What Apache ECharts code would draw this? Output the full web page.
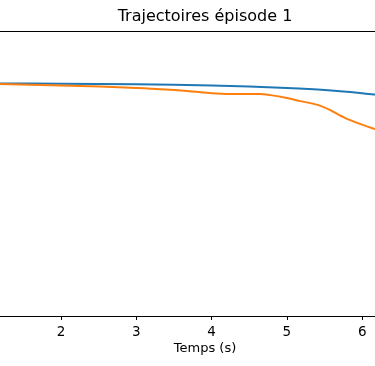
<!DOCTYPE html>
<html>
<head>
<meta charset="utf-8">
<script src="https://cdn.jsdelivr.net/npm/echarts@6/dist/echarts.min.js"></script>
<style>html,body{margin:0;padding:0;background:#fff}#c{width:375px;height:366px}</style>
</head>
<body>
<div id="c"></div>
<script>
const titleText = "Trajectoires épisode 1";
const xLabel = "Temps (s)";
const blueT = [1.0, 1.19, 2.0, 3.0, 4.0, 4.5, 5.0, 5.5, 6.0, 6.17, 6.3];
const blueV = [81.6, 81.6, 81.5, 81.3, 80.9, 80.5, 80.0, 79.3, 78.2, 77.7, 77.3];
const orangeT = [1.0, 1.19, 2.0, 2.52, 3.0, 3.32, 3.71, 4.0, 4.38, 4.64, 4.78, 5.0, 5.18, 5.42, 5.57, 5.77, 5.97, 6.17, 6.3];
const orangeV = [81.5, 81.4, 80.9, 80.5, 80.0, 79.6, 78.9, 78.2, 77.9, 77.9, 77.5, 76.5, 75.4, 74.0, 72.3, 69.5, 67.4, 65.6, 64.8];
const xTicks = [2, 3, 4, 5, 6];

const zip = (a, b) => a.map((t, i) => [t, b[i]]);
const chart = echarts.init(document.getElementById('c'), null, {renderer: 'canvas'});
const font = 'DejaVu Sans';
chart.setOption({
  animation: false,
  backgroundColor: '#fff',
  grid: {left: 0, right: 0, top: 31, bottom: 50, containLabel: false},
  xAxis: [{
    type: 'value', min: 1.19, max: 6.17, interval: 1,
    position: 'bottom',
    axisLine: {show: true, lineStyle: {color: '#000', width: 1}},
    axisTick: {show: true, length: 4, inside: false, lineStyle: {color: '#000', width: 1},
      customValues: xTicks},
    axisLabel: {show: true, color: '#000', fontFamily: font, fontSize: 13.5, margin: 9,
      customValues: xTicks, formatter: v => String(v)},
    splitLine: {show: false}
  }, {
    type: 'value', min: 1.19, max: 6.17,
    position: 'top',
    axisLine: {show: true, onZero: false, lineStyle: {color: '#000', width: 1}},
    axisTick: {show: false}, axisLabel: {show: false}, splitLine: {show: false}
  }],
  yAxis: {
    type: 'value', min: 0, max: 100,
    axisLine: {show: false}, axisTick: {show: false}, axisLabel: {show: false}, splitLine: {show: false}
  },
  series: [
    {type: 'line', data: zip(blueT, blueV), smooth: 0.3, showSymbol: false, clip: true,
     lineStyle: {color: '#1f77b4', width: 2}, itemStyle: {color: '#1f77b4'}},
    {type: 'line', data: zip(orangeT, orangeV), smooth: 0.3, showSymbol: false, clip: true,
     lineStyle: {color: '#ff7f0e', width: 2}, itemStyle: {color: '#ff7f0e'}}
  ],
  graphic: [
    {type: 'text', x: 205, y: 17, style: {text: titleText, fill: '#000', font: '16px "DejaVu Sans"', textAlign: 'center', textVerticalAlign: 'middle'}},
    {type: 'text', x: 205, y: 349, style: {text: xLabel, fill: '#000', font: '13px "DejaVu Sans"', textAlign: 'center', textVerticalAlign: 'middle'}}
  ]
});
</script>
</body>
</html>
